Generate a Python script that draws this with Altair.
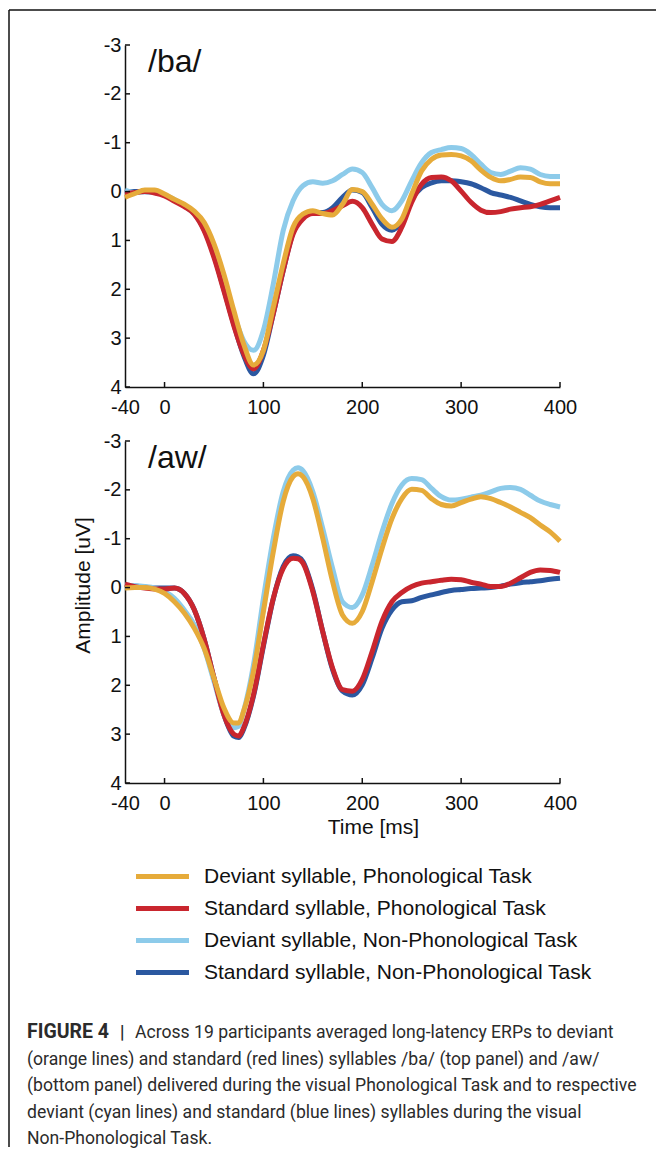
import altair as alt
import pandas as pd

# ---------------- data ----------------
SERIES = [
    "Deviant syllable, Phonological Task",
    "Standard syllable, Phonological Task",
    "Deviant syllable, Non-Phonological Task",
    "Standard syllable, Non-Phonological Task",
]
COLORS = ["#E6AB3A", "#C9262E", "#8DCBEA", "#2B58A0"]
DRAW_ORDER = [SERIES[3], SERIES[2], SERIES[1], SERIES[0]]

ba_time = [-40, -30, -20, -10, 0, 10, 20, 30, 40, 50, 60, 70, 80, 90, 100, 110, 120, 130,
           140, 150, 160, 170, 180, 190, 200, 210, 220, 230, 240, 250, 260, 270, 280, 290,
           300, 310, 320, 330, 340, 350, 360, 370, 380, 390, 400]
ba_dev_phon = [0.12, 0.04, -0.03, -0.03, 0.05, 0.16, 0.26, 0.40, 0.63, 1.07, 1.69, 2.43, 3.12,
               3.55, 3.25, 2.37, 1.48, 0.73, 0.46, 0.39, 0.45, 0.48, 0.26, -0.04, 0.0, 0.26,
               0.56, 0.73, 0.56, 0.05, -0.42, -0.66, -0.75, -0.76, -0.73, -0.63, -0.44, -0.29,
               -0.22, -0.25, -0.30, -0.29, -0.20, -0.16, -0.16]
ba_std_phon = [0.05, 0.02, 0.0, 0.03, 0.09, 0.20, 0.31, 0.46, 0.80, 1.35, 2.03, 2.74, 3.32,
               3.63, 3.25, 2.50, 1.62, 0.87, 0.56, 0.45, 0.45, 0.39, 0.29, 0.20, 0.33, 0.67,
               0.97, 1.02, 0.73, 0.22, -0.15, -0.29, -0.30, -0.22, -0.01, 0.22, 0.38, 0.43,
               0.41, 0.36, 0.33, 0.31, 0.26, 0.19, 0.12]
ba_dev_nonphon = [-0.03, 0.02, 0.01, 0.02, 0.07, 0.16, 0.29, 0.46, 0.73, 1.21, 1.82, 2.50, 3.05,
                  3.25, 2.84, 1.89, 0.80, 0.19, -0.12, -0.20, -0.17, -0.22, -0.35, -0.46, -0.39,
                  -0.08, 0.26, 0.39, 0.19, -0.22, -0.59, -0.80, -0.86, -0.90, -0.88, -0.76,
                  -0.56, -0.39, -0.35, -0.42, -0.49, -0.46, -0.35, -0.31, -0.31]
ba_std_nonphon = [0.02, 0.0, 0.0, 0.02, 0.07, 0.18, 0.29, 0.45, 0.77, 1.31, 2.00, 2.71, 3.35,
                  3.73, 3.35, 2.50, 1.62, 0.84, 0.53, 0.43, 0.43, 0.33, 0.12, -0.03, 0.02, 0.33,
                  0.67, 0.79, 0.60, 0.16, -0.08, -0.18, -0.22, -0.22, -0.20, -0.16, -0.08, 0.02,
                  0.07, 0.12, 0.19, 0.26, 0.31, 0.33, 0.33]

aw_time = [-40, -30, -20, -10, 0, 10, 20, 30, 40, 50, 60, 70, 75, 80, 90, 100, 110, 120, 130,
           135, 140, 150, 160, 170, 180, 190, 200, 210, 220, 230, 240, 250, 260, 270, 280, 290,
           300, 310, 320, 330, 340, 350, 360, 370, 380, 390, 400]
aw_dev_phon = [0.01, 0.0, 0.0, 0.03, 0.12, 0.29, 0.52, 0.83, 1.24, 1.85, 2.46, 2.77, 2.77, 2.53,
               1.71, 0.49, -0.73, -1.76, -2.27, -2.33, -2.27, -1.82, -1.01, -0.12, 0.56, 0.73,
               0.49, -0.12, -0.80, -1.41, -1.82, -2.01, -1.99, -1.82, -1.70, -1.67, -1.74,
               -1.81, -1.86, -1.82, -1.74, -1.65, -1.54, -1.43, -1.28, -1.14, -0.95]
aw_std_phon = [-0.07, -0.02, 0.01, 0.03, 0.03, 0.01, 0.12, 0.45, 1.05, 1.85, 2.60, 3.00, 3.04,
               2.87, 2.19, 1.17, 0.22, -0.39, -0.60, -0.59, -0.50, 0.08, 0.90, 1.65, 2.09, 2.12,
               1.88, 1.31, 0.69, 0.29, 0.10, -0.02, -0.09, -0.12, -0.15, -0.17, -0.16, -0.11,
               -0.07, -0.02, -0.02, -0.09, -0.20, -0.31, -0.36, -0.35, -0.31]
aw_dev_nonphon = [-0.05, -0.04, -0.02, 0.01, 0.08, 0.22, 0.46, 0.76, 1.24, 1.92, 2.60, 2.87,
                  2.84, 2.53, 1.58, 0.22, -1.01, -1.96, -2.40, -2.45, -2.39, -1.96, -1.21,
                  -0.39, 0.29, 0.41, 0.15, -0.46, -1.14, -1.72, -2.10, -2.23, -2.21, -2.03,
                  -1.86, -1.79, -1.81, -1.85, -1.89, -1.96, -2.03, -2.05, -2.01, -1.89, -1.77,
                  -1.70, -1.65]
aw_std_nonphon = [-0.05, -0.03, -0.01, 0.01, 0.01, 0.01, 0.12, 0.45, 1.05, 1.85, 2.60, 3.04,
                  3.07, 2.90, 2.22, 1.20, 0.23, -0.43, -0.65, -0.63, -0.53, 0.05, 0.90, 1.68,
                  2.12, 2.20, 1.99, 1.44, 0.83, 0.46, 0.29, 0.27, 0.20, 0.15, 0.10, 0.06, 0.04,
                  0.02, 0.01, 0.0, -0.03, -0.07, -0.10, -0.12, -0.14, -0.17, -0.19]

X_LABELS = [-40, 0, 100, 200, 300, 400]
X_TICKS = [0, 100, 200, 300, 400]
Y_TICKS = [-3, -2, -1, 0, 1, 2, 3, 4]

CAPTION_BOLD = "FIGURE 4"
CAPTION_BAR = "|"
CAPTION_FIRST = "Across 19 participants averaged long-latency ERPs to deviant"
CAPTION_REST = [
    "(orange lines) and standard (red lines) syllables /ba/ (top panel) and /aw/",
    "(bottom panel) delivered during the visual Phonological Task and to respective",
    "deviant (cyan lines) and standard (blue lines) syllables during the visual",
    "Non-Phonological Task.",
]

# ---------------- styling ----------------
FONT = "Liberation Sans"
CAP_FONT = "Roboto"
CAP_SIZE = 17.6
INK = "#111111"
W, H = 435, 342
GAP = 54


def long_df(times, series_vals):
    rows = []
    for name, vals in zip(SERIES, series_vals):
        for t, v in zip(times, vals):
            rows.append({"time": t, "amp": v, "series": name})
    return pd.DataFrame(rows)


X_SCALE = alt.Scale(domain=[-40, 400], nice=False, zero=False)
Y_SCALE = alt.Scale(domain=[-3, 4], reverse=True, nice=False, zero=False)

LEGEND = alt.Legend(
    title=None, orient="none", legendX=24, legendY=818,
    symbolType="M-2.5,0H2.5", symbolSize=449, symbolStrokeWidth=5,
    labelFont=FONT, labelFontSize=21, labelColor=INK, labelOffset=28,
    labelLimit=600, rowPadding=8, padding=0,
)
COLOR = alt.Color("series:N", scale=alt.Scale(domain=SERIES, range=COLORS), legend=LEGEND)


def panel(df, label, bottom):
    if bottom:
        x_axis = alt.Axis(values=X_LABELS, ticks=False, grid=False, labelFlush=False,
                          labelOverlap=False, labelExpr="'' + datum.value",
                          title="Time [ms]", titleX=248, titleY=50,
                          titleBaseline="alphabetic", titleAlign="center")
        y_axis = alt.Axis(values=Y_TICKS, ticks=False, grid=False, labelOverlap=False,
                          labelExpr="'' + datum.value",
                          title="Amplitude [uV]", titleX=-42, titleY=144, titleAngle=270,
                          titleAlign="center", titleBaseline="middle")
    else:
        x_axis = alt.Axis(values=X_LABELS, ticks=False, grid=False, labelFlush=False,
                          labelOverlap=False, labelExpr="'' + datum.value", title=None)
        y_axis = alt.Axis(values=Y_TICKS, ticks=False, grid=False, labelOverlap=False,
                          labelExpr="'' + datum.value", title=None)

    X = alt.X("time:Q", scale=X_SCALE, axis=x_axis)
    Y = alt.Y("amp:Q", scale=Y_SCALE, axis=y_axis)

    base = alt.Chart(df)
    layers = []
    for name in DRAW_ORDER:
        layers.append(
            base.transform_filter(alt.datum.series == name)
            .mark_line(strokeWidth=5, interpolate="monotone")
            .encode(x=X, y=Y, color=COLOR)
        )
    xt = alt.Chart(pd.DataFrame({"time": X_TICKS})).mark_rule(color=INK, strokeWidth=1.5).encode(
        x=X, y=alt.value(H), y2=alt.value(H - 5))
    yt = alt.Chart(pd.DataFrame({"amp": Y_TICKS})).mark_rule(color=INK, strokeWidth=1.5).encode(
        y=Y, x=alt.value(0), x2=alt.value(5))
    lab = alt.Chart(pd.DataFrame({"label": [label]})).mark_text(
        align="left", baseline="alphabetic", font=FONT, fontSize=32, color=INK
    ).encode(text="label:N", x=alt.value(23), y=alt.value(27))
    layers += [xt, yt, lab]

    if not bottom:
        one = pd.DataFrame({"k": [0]})
        frame_h = alt.Chart(one).mark_rule(color=INK, strokeWidth=1.5).encode(
            x=alt.value(-116), x2=alt.value(531), y=alt.value(-35))
        frame_v = alt.Chart(one).mark_rule(color=INK, strokeWidth=1.5).encode(
            x=alt.value(-116), y=alt.value(-35), y2=alt.value(1102))
        layers += [frame_h, frame_v]
    else:
        cap_color = "#2b2b2b"
        common = dict(align="left", baseline="alphabetic", font=CAP_FONT,
                      color=cap_color)
        c1 = alt.Chart(pd.DataFrame({"t": [CAPTION_BOLD]})).mark_text(
            fontWeight="bold", fontSize=19.5, **common
        ).encode(text="t:N", x=alt.value(-98), y=alt.value(597))
        c2 = alt.Chart(pd.DataFrame({"t": [CAPTION_BAR]})).mark_text(
            fontSize=CAP_SIZE, fontWeight="bold", **common
        ).encode(text="t:N", x=alt.value(-5), y=alt.value(597))
        c3 = alt.Chart(pd.DataFrame({"t": [CAPTION_FIRST]})).mark_text(
            fontSize=CAP_SIZE, **common
        ).encode(text="t:N", x=alt.value(10), y=alt.value(597))
        c4 = alt.Chart(pd.DataFrame({"t": ["\n".join(CAPTION_REST)]})).mark_text(
            lineBreak="\n", lineHeight=26.5, fontSize=CAP_SIZE, **common
        ).encode(text="t:N", x=alt.value(-98), y=alt.value(623.5))
        layers += [c1, c2, c3, c4]

    return alt.layer(*layers).properties(width=W, height=H)


top = panel(long_df(ba_time, [ba_dev_phon, ba_std_phon, ba_dev_nonphon, ba_std_nonphon]), "/ba/", False)
bottom = panel(long_df(aw_time, [aw_dev_phon, aw_std_phon, aw_dev_nonphon, aw_std_nonphon]), "/aw/", True)

chart = alt.vconcat(top, bottom, spacing=GAP, bounds="flush").properties(
    padding={"left": 8, "top": 9, "right": 0, "bottom": 0},
    background="white",
).configure_view(stroke=None).configure_axis(
    labelFont=FONT, labelFontSize=20, labelColor=INK, labelPadding=4,
    domainColor=INK, domainWidth=1.5,
    titleFont=FONT, titleFontSize=21, titleColor=INK, titleFontWeight="normal",
).configure_axisX(labelPadding=10)

chart.save("out.html", embed_options={"renderer": "svg", "actions": False})
